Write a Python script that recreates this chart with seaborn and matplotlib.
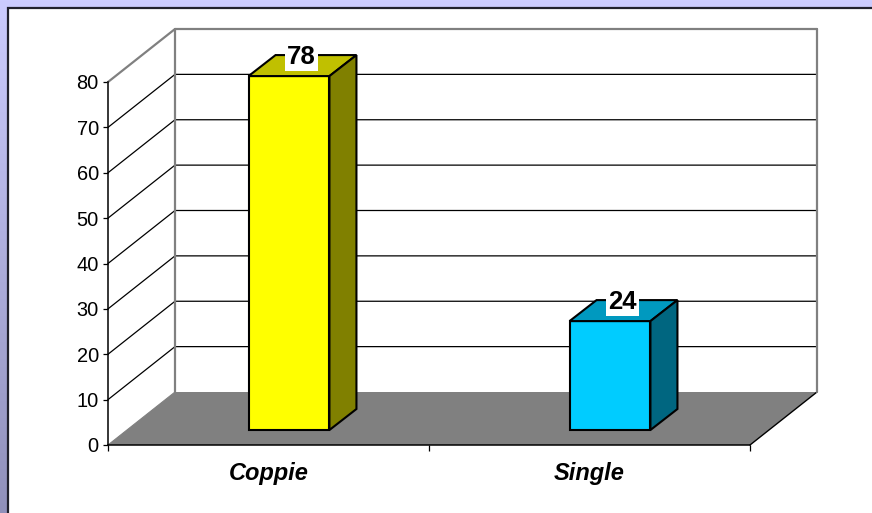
import numpy as np
import seaborn as sns
import matplotlib
matplotlib.use('Agg')
import matplotlib.pyplot as plt
from matplotlib.patches import Polygon, Rectangle
from matplotlib.transforms import Affine2D

categories = ['Coppie', 'Single']
values = [78, 24]
front_colors = ['#FFFF00', '#00CCFF']
top_colors = ['#C0C000', '#0099BF']
side_colors = ['#808000', '#006680']
y_ticks = [0, 10, 20, 30, 40, 50, 60, 70, 80]

sns.set_style('white')
plt.rcParams['font.family'] = ['Liberation Sans', 'DejaVu Sans']
plt.rcParams['text.color'] = 'black'
plt.rcParams['xtick.labelcolor'] = 'black'
plt.rcParams['ytick.labelcolor'] = 'black'

W, H = 872, 513
fig = plt.figure(figsize=(W / 100, H / 100), dpi=100)

# slide background: lavender gradient behind a white panel
bg = fig.add_axes([0, 0, 1, 1], zorder=0)
bg.imshow(np.linspace(0, 1, 256).reshape(-1, 1), aspect='auto', extent=[0, W, H, 0],
          cmap=matplotlib.colors.LinearSegmentedColormap.from_list('bg', ['#CCCCFF', '#9090BA']))
bg.add_patch(Rectangle((7.5, 7.5), W, H, fc='white', ec='#20202C', lw=1.6))
bg.set_xlim(0, W)
bg.set_ylim(H, 0)
bg.axis('off')

# axes = front plane of the 3D box
ax = fig.add_axes([108 / W, (H - 445) / H, 642 / W, 363 / H], zorder=1)
ax.patch.set_visible(False)

sns.barplot(x=categories, y=values, hue=categories, palette=front_colors, legend=False,
            width=0.252, saturation=1, edgecolor='black', linewidth=1.5, zorder=5, ax=ax)
ax.set_xlim(-0.5, 1.5)
ax.set_ylim(0, 80)

ux = 321.0  # pixels per category
uy = 363 / 80.0  # pixels per y unit
wall_dx, wall_dy = 67 / ux, 53 / uy
shift_x, shift_y = 20.5 / ux, 15 / uy
depth_x, depth_y = 27 / ux, 21 / uy

x0, x1 = ax.get_xlim()

# floor
ax.add_patch(Polygon([(x0, 0), (x0 + wall_dx, wall_dy), (x1 + wall_dx, wall_dy), (x1, 0)],
                     closed=True, fc='#808080', ec='none', clip_on=False, zorder=1))
ax.plot([x1, x1 + wall_dx], [0, wall_dy], color='black', lw=1, clip_on=False, zorder=2)

# walls and grid
for v in y_ticks[1:]:
    c = '#808080' if v == 80 else 'black'
    lw = 1.6 if v == 80 else 0.9
    ax.plot([x0, x0 + wall_dx, x1 + wall_dx], [v, v + wall_dy, v + wall_dy],
            color=c, lw=lw, clip_on=False, zorder=2)
for x in [x0 + wall_dx, x1 + wall_dx]:
    ax.plot([x, x], [wall_dy, 80 + wall_dy], color='#808080', lw=1.6, clip_on=False, zorder=3)
ax.plot([x0, x0 + wall_dx], [0, wall_dy], color='#808080', lw=0.8, clip_on=False, zorder=2)

# move the bars onto the floor and add the top and side faces
tr = Affine2D().translate(shift_x, shift_y) + ax.transData
for i, p in enumerate(ax.patches[1:3] if len(ax.patches) > 3 else ax.patches[:2]):
    p.set_transform(tr)
    p.set_clip_on(False)
    left, right = p.get_x(), p.get_x() + p.get_width()
    h = p.get_height()
    ax.add_patch(Polygon([(left, h), (left + depth_x, h + depth_y), (right + depth_x, h + depth_y), (right, h)],
                         closed=True, fc=top_colors[i], ec='black', lw=1.5, transform=tr, clip_on=False, zorder=5))
    ax.add_patch(Polygon([(right, 0), (right + depth_x, depth_y), (right + depth_x, h + depth_y), (right, h)],
                         closed=True, fc=side_colors[i], ec='black', lw=1.5, transform=tr, clip_on=False, zorder=5))
    ax.text((left + right + depth_x) / 2 - 1 / ux, h + 19.5 / uy, str(values[i]), transform=tr, ha='center', va='center',
            fontsize=18.5, fontweight='bold', color='black', zorder=6,
            bbox=dict(fc='white', ec='none', pad=1.5))

for s in ['top', 'right']:
    ax.spines[s].set_visible(False)
for s in ['left', 'bottom']:
    ax.spines[s].set_color('black')
    ax.spines[s].set_linewidth(1.1)
    ax.spines[s].set_zorder(4)

ax.set_yticks(y_ticks)
ax.tick_params(axis='y', labelsize=14.4, length=3.6, width=0.9, color='black', pad=3, left=True)
ax.set_xticks([x0, 0.5, x1])
ax.set_xticklabels(['', '', ''])
ax.tick_params(axis='x', which='major', length=4.3, width=0.9, color='black', bottom=True)
ax.set_xticks([0, 1], categories, minor=True)
ax.tick_params(axis='x', which='minor', length=0, pad=12, labelsize=17)
for t in ax.get_xticklabels(minor=True):
    t.set_fontweight('bold')
    t.set_fontstyle('italic')
ax.set_xlabel('')
ax.set_ylabel('')

fig.savefig('out.png', dpi=100)
